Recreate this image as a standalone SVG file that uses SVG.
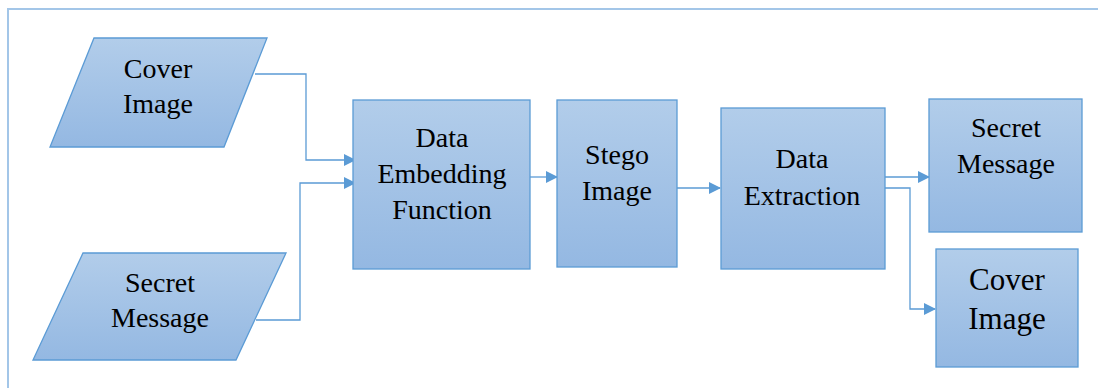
<svg xmlns="http://www.w3.org/2000/svg" width="1098" height="388" viewBox="0 0 1098 388">
<defs>
<linearGradient id="fill" x1="0" y1="0" x2="0" y2="1">
<stop offset="0" stop-color="#b2cdea"/>
<stop offset="1" stop-color="#94b8e2"/>
</linearGradient>
<marker id="arr" viewBox="0 0 12 12" refX="11" refY="6" markerWidth="12" markerHeight="12" markerUnits="userSpaceOnUse" orient="auto">
<path d="M0,0 L12,6 L0,12 Z" fill="#5b9bd5"/>
</marker>
<style>
.shape{fill:url(#fill);stroke:#5b9bd5;stroke-width:1.3}
.t{font-family:"Liberation Serif","Times New Roman","DejaVu Serif",serif;font-size:28px;fill:#000;text-anchor:middle}
.big{font-size:31px}
.c{fill:none;stroke:#5b9bd5;stroke-width:1.3}
</style>
</defs>
<rect width="1098" height="388" fill="#fff"/>
<g id="frame" fill="none" stroke="#a3c6e8" stroke-width="2">
<path d="M8,388 L8,9 L1098,9"/>
</g>
<g id="connectors">
<path class="c" d="M255,74 L306,74 L306,160 L355,160" marker-end="url(#arr)"/>
<path class="c" d="M256,320 L300,320 L300,183 L355,183" marker-end="url(#arr)"/>
<path class="c" d="M530,177 L557,177" marker-end="url(#arr)"/>
<path class="c" d="M677,188 L720,188" marker-end="url(#arr)"/>
<path class="c" d="M885,177 L929,177" marker-end="url(#arr)"/>
<path class="c" d="M885,188 L910,188 L910,309 L935,309" marker-end="url(#arr)"/>
</g>
<g id="cover-image-in">
<polygon class="shape" points="94,38 267,38 224,147 50,147"/>
<text class="t" x="158" y="78">Cover</text>
<text class="t" x="158" y="113">Image</text>
</g>
<g id="secret-message-in">
<polygon class="shape" points="83,253 286,253 236,360 33,360"/>
<text class="t" x="160" y="292">Secret</text>
<text class="t" x="160" y="327">Message</text>
</g>
<g id="data-embedding">
<rect class="shape" x="353" y="100" width="177" height="169"/>
<text class="t" x="442" y="147">Data</text>
<text class="t" x="442" y="183">Embedding</text>
<text class="t" x="442" y="219">Function</text>
</g>
<g id="stego-image">
<rect class="shape" x="557" y="100" width="120" height="167"/>
<text class="t" x="617" y="164">Stego</text>
<text class="t" x="617" y="200">Image</text>
</g>
<g id="data-extraction">
<rect class="shape" x="721" y="108" width="164" height="161"/>
<text class="t" x="802" y="168">Data</text>
<text class="t" x="802" y="205">Extraction</text>
</g>
<g id="secret-message-out">
<rect class="shape" x="929" y="99" width="153" height="133"/>
<text class="t" x="1006" y="137">Secret</text>
<text class="t" x="1006" y="173">Message</text>
</g>
<g id="cover-image-out">
<rect class="shape" x="936" y="249" width="142" height="118"/>
<text class="t big" x="1007" y="290">Cover</text>
<text class="t big" x="1007" y="329">Image</text>
</g>
</svg>
